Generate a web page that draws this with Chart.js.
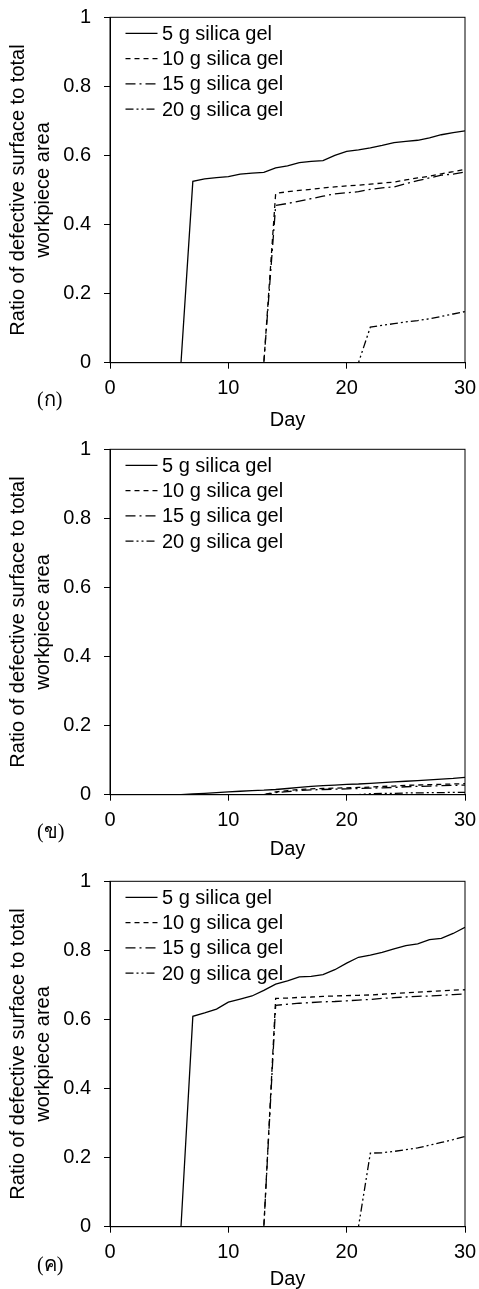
<!DOCTYPE html>
<html>
<head>
<meta charset="utf-8">
<script src="https://cdn.jsdelivr.net/npm/chart.js@4.4.1/dist/chart.umd.min.js"></script>
<style>
  html, body { margin: 0; padding: 0; background: #fff; overflow: hidden; }
  .panel { position: absolute; left: 0; width: 479px; height: 440px; }
  .tag { position: absolute; left: 37px; font-family: "Liberation Serif", "DejaVu Serif", serif; font-size: 20px; color: #000; }
</style>
</head>
<body>
<div class="panel" style="top:0px"><canvas id="c1" width="479" height="440"></canvas></div>
<div class="panel" style="top:432px"><canvas id="c2" width="479" height="440"></canvas></div>
<div class="panel" style="top:864px"><canvas id="c3" width="479" height="440"></canvas></div>
<div class="tag" style="top:383px">(ก)</div>
<div class="tag" style="top:815px">(ข)</div>
<div class="tag" style="top:1248px">(ค)</div>
<script>
const days = [1, 2, 3, 4, 5, 6, 7, 8, 9, 10, 11, 12, 13, 14, 15, 16, 17, 18, 19, 20, 21, 22, 23, 24, 25, 26, 27, 28, 29, 30];
const seriesNames = ['5 g silica gel', '10 g silica gel', '15 g silica gel', '20 g silica gel'];
const xTicks = [0, 10, 20, 30];
const yTicks = [0, 0.2, 0.4, 0.6, 0.8, 1];

// (ก)
const a5 = [0, 0, 0, 0, 0, 0, 0.525, 0.532, 0.536, 0.539, 0.546, 0.549, 0.551, 0.564, 0.570, 0.579, 0.583, 0.585, 0.600, 0.612, 0.616, 0.622, 0.629, 0.637, 0.641, 0.644, 0.651, 0.660, 0.666, 0.671];
const a10 = [0, 0, 0, 0, 0, 0, 0, 0, 0, 0, 0, 0, 0, 0.490, 0.495, 0.499, 0.502, 0.506, 0.509, 0.512, 0.514, 0.517, 0.520, 0.523, 0.529, 0.535, 0.540, 0.547, 0.553, 0.560];
const a15 = [0, 0, 0, 0, 0, 0, 0, 0, 0, 0, 0, 0, 0, 0.455, 0.461, 0.468, 0.475, 0.482, 0.489, 0.492, 0.495, 0.502, 0.506, 0.509, 0.518, 0.527, 0.535, 0.543, 0.546, 0.552];
const a20 = [0, 0, 0, 0, 0, 0, 0, 0, 0, 0, 0, 0, 0, 0, 0, 0, 0, 0, 0, 0, 0, 0.103, 0.108, 0.113, 0.118, 0.122, 0.127, 0.134, 0.141, 0.148];

// (ข)
const b5 = [0, 0, 0, 0, 0, 0, 0.002, 0.004, 0.006, 0.008, 0.010, 0.012, 0.013, 0.015, 0.018, 0.021, 0.024, 0.026, 0.028, 0.030, 0.031, 0.033, 0.035, 0.037, 0.039, 0.041, 0.043, 0.045, 0.047, 0.050];
const b10 = [0, 0, 0, 0, 0, 0, 0, 0, 0, 0, 0, 0, 0, 0.008, 0.012, 0.015, 0.017, 0.018, 0.019, 0.020, 0.021, 0.022, 0.024, 0.025, 0.027, 0.028, 0.029, 0.030, 0.031, 0.032];
const b15 = [0, 0, 0, 0, 0, 0, 0, 0, 0, 0, 0, 0, 0, 0.006, 0.009, 0.012, 0.014, 0.015, 0.016, 0.017, 0.018, 0.019, 0.020, 0.021, 0.023, 0.024, 0.025, 0.026, 0.027, 0.028];
const b20 = [0, 0, 0, 0, 0, 0, 0, 0, 0, 0, 0, 0, 0, 0, 0, 0, 0, 0, 0, 0, 0, 0.003, 0.004, 0.004, 0.005, 0.005, 0.006, 0.006, 0.007, 0.007];

// (ค)
const c5 = [0, 0, 0, 0, 0, 0, 0.609, 0.619, 0.630, 0.650, 0.659, 0.668, 0.684, 0.702, 0.712, 0.723, 0.725, 0.730, 0.744, 0.763, 0.780, 0.786, 0.794, 0.804, 0.814, 0.819, 0.831, 0.835, 0.849, 0.867];
const c10 = [0, 0, 0, 0, 0, 0, 0, 0, 0, 0, 0, 0, 0, 0.661, 0.662, 0.664, 0.665, 0.667, 0.668, 0.669, 0.670, 0.671, 0.673, 0.675, 0.677, 0.679, 0.681, 0.683, 0.685, 0.686];
const c15 = [0, 0, 0, 0, 0, 0, 0, 0, 0, 0, 0, 0, 0, 0.641, 0.644, 0.647, 0.649, 0.651, 0.652, 0.654, 0.656, 0.658, 0.661, 0.663, 0.665, 0.667, 0.668, 0.670, 0.672, 0.674];
const c20 = [0, 0, 0, 0, 0, 0, 0, 0, 0, 0, 0, 0, 0, 0, 0, 0, 0, 0, 0, 0, 0, 0.213, 0.214, 0.218, 0.223, 0.228, 0.236, 0.244, 0.252, 0.261];

const dashes = [[], [5, 4], [10, 4, 2, 4], [8, 3, 2, 3, 2, 3]];

Chart.defaults.font.family = '"Liberation Sans", Arial, sans-serif';
Chart.defaults.font.size = 20;
Chart.defaults.color = '#000';

// frame round the plot area
const frame = {
  id: 'frame',
  afterDatasetsDraw(chart) {
    const { ctx, chartArea: a } = chart;
    ctx.save();
    ctx.strokeStyle = '#000';
    ctx.lineWidth = 1;
    ctx.strokeRect(a.left, a.top, a.right - a.left, a.bottom - a.top);
    ctx.restore();
  }
};

// legend inside the plot, line sample then label
const lineLegend = {
  id: 'lineLegend',
  afterDatasetsDraw(chart) {
    const { ctx, chartArea: a } = chart;
    ctx.save();
    ctx.font = '20px "Liberation Sans", Arial, sans-serif';
    ctx.textBaseline = 'middle';
    ctx.fillStyle = '#000';
    chart.data.datasets.forEach((ds, i) => {
      const x = a.left + 15.5;
      const y = a.top + 16 + i * 25.3;
      ctx.setLineDash(ds.borderDash);
      ctx.lineWidth = ds.borderWidth;
      ctx.strokeStyle = '#000';
      ctx.beginPath();
      ctx.moveTo(x, y);
      ctx.lineTo(x + 32, y);
      ctx.stroke();
      ctx.setLineDash([]);
      ctx.fillText(ds.label, x + 36.5, y + 1);
    });
    ctx.restore();
  }
};

function makeChart(id, values, dayPad) {
  new Chart(document.getElementById(id), {
    type: 'line',
    data: {
      datasets: values.map((vals, i) => ({
        label: seriesNames[i],
        data: days.map((d, j) => ({ x: d, y: vals[j] })),
        borderColor: '#000',
        borderWidth: 1.3,
        borderDash: dashes[i],
        pointRadius: 0,
        tension: 0,
        fill: false
      }))
    },
    options: {
      responsive: false,
      animation: false,
      layout: { padding: { top: 17.3, right: 14, left: 0, bottom: 0 } },
      plugins: { legend: { display: false }, tooltip: { enabled: false } },
      scales: {
        x: {
          type: 'linear',
          min: 0,
          max: 30,
          afterBuildTicks: (s) => { s.ticks = xTicks.map(v => ({ value: v })); },
          afterFit: (s) => { s.height = 440 - 362.7; s.paddingLeft = 0; s.paddingRight = 0; },
          ticks: { padding: 8, maxRotation: 0, callback: (v) => String(v) },
          grid: { drawOnChartArea: false, drawTicks: true, tickLength: 6, color: '#000' },
          border: { color: '#000' },
          title: { display: true, text: 'Day', font: { size: 20, lineHeight: 1.25 }, padding: { top: 0, bottom: dayPad } }
        },
        y: {
          min: 0,
          max: 1,
          afterBuildTicks: (s) => { s.ticks = yTicks.map(v => ({ value: v })); },
          afterFit: (s) => { s.width = 110; s.paddingTop = 0; s.paddingBottom = 0; },
          ticks: { padding: 13, callback: (v) => String(Math.round(v * 10) / 10) },
          grid: { drawOnChartArea: false, drawTicks: true, tickLength: 6, color: '#000' },
          border: { color: '#000' },
          title: {
            display: true,
            text: ['Ratio of defective surface to total', 'workpiece area'],
            font: { size: 20, lineHeight: 1.25 },
            padding: { top: 5.5, bottom: 0 }
          }
        }
      }
    },
    plugins: [frame, lineLegend]
  });
}

makeChart('c1', [a5, a10, a15, a20], 7);
makeChart('c2', [b5, b10, b15, b20], 10.5);
makeChart('c3', [c5, c10, c15, c20], 12.5);
</script>
</body>
</html>
